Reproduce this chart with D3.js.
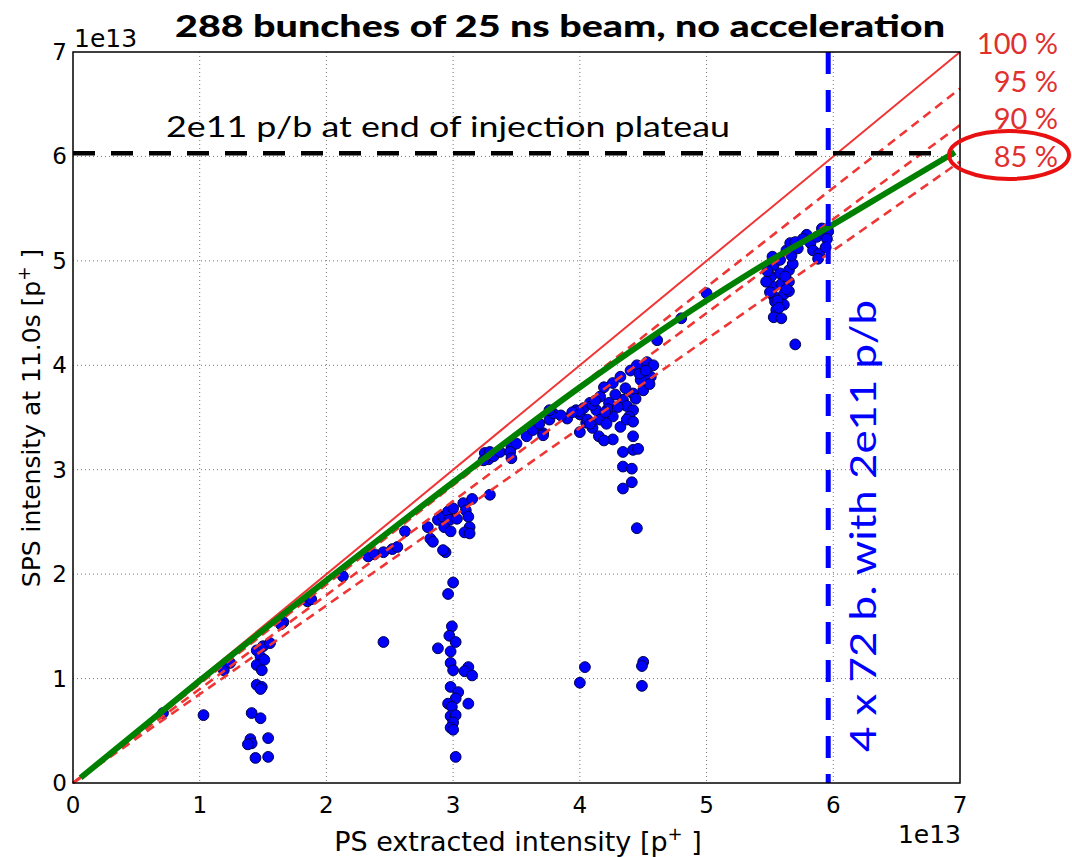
<!doctype html>
<html lang="en">
<head>
<meta charset="utf-8">
<title>288 bunches of 25 ns beam</title>
<style>
  body { margin: 0; background: #fff; }
  text { font-family: "DejaVu Sans", sans-serif; }
  .cal { font-family: Lato, "Open Sans", sans-serif; }
</style>
</head>
<body>
<div id="chart"></div>
<script src="https://d3js.org/d3.v7.min.js"></script>
<script>
// values in units of 1e13 protons
var ticks = [0, 1, 2, 3, 4, 5, 6, 7];
var ratios = [1.0, 0.95, 0.90, 0.85];
var ratioLabels = ["100 %", "95 %", "90 %", "85 %"];
var plateau = 6.03;       // 2e11 p/b line
var fourBatches = 5.96;   // 4 x 72 b. line

// green fit curve
var fitX = [0.06, 1, 2, 3, 4, 5, 5.5, 5.96, 6.5, 6.96];
var fitY = [0.05, 0.98, 1.94, 2.88, 3.79, 4.62, 5.0, 5.32, 5.71, 6.04];

// measurements: PS extracted vs SPS at 11.0 s
var psX = [
  0.71, 1.03, 1.19, 1.24, 1.45, 1.50, 1.555, 1.48, 1.45, 1.49, 1.51, 1.45, 1.49, 1.48,
  1.41, 1.48, 1.40, 1.41, 1.38, 1.54, 1.44, 1.54, 1.66, 1.64, 1.85, 1.88, 2.13,
  2.33, 2.38, 2.45, 2.52, 2.56, 2.62, 2.45,
  2.94, 3.0, 2.96, 2.99, 2.97, 3.02, 2.98, 2.88, 2.98, 3.0, 3.12, 3.09, 3.15, 2.98, 3.04,
  3.02, 2.96, 2.99, 3.12, 2.98, 3.02, 3.0, 2.98, 3.0, 3.02,
  4.0, 4.04, 4.5, 4.49, 4.49,
  2.80, 2.82, 2.84, 2.88, 2.92, 2.96, 3.0, 2.97, 3.03, 2.93, 2.98, 3.08, 3.15, 3.10, 3.12,
  3.13, 3.09, 3.13, 3.29, 2.92,
  3.25, 3.29, 3.28, 3.24, 3.32, 3.37, 3.46, 3.45,
  3.46, 3.50, 3.58, 3.63, 3.71, 3.76, 3.79, 3.68, 3.90, 4.0, 3.97, 4.03, 4.08, 4.16, 4.19,
  4.26, 4.32, 4.40, 4.45, 4.53, 4.58, 4.13, 4.23, 4.16, 4.26, 4.34, 4.42, 4.50, 4.48, 4.56,
  4.37, 4.42, 4.21, 4.32, 4.39, 4.15, 4.26, 4.37, 4.42, 4.42, 4.34, 4.42, 4.46, 4.34, 4.41,
  4.41, 4.34, 4.45, 3.71, 3.76, 3.99, 4.0, 4.19, 4.10, 4.05, 3.85, 4.61, 4.8, 5.0,
  4.06, 4.10, 4.22, 4.28, 4.30, 4.36, 4.47, 4.52, 4.55, 4.44, 4.12, 4.20, 4.08, 3.94,
  5.53, 5.58, 5.63, 5.66, 5.70, 5.51, 5.58, 5.65, 5.68, 5.53, 5.59, 5.65, 5.53, 5.61, 5.65,
  5.54, 5.61, 5.55, 5.53, 5.59, 5.70,
  5.48, 5.50, 5.56, 5.62, 5.67, 5.72, 5.47, 5.57, 5.63, 5.52,
  5.82, 5.87, 5.92, 5.96, 5.84, 5.89, 5.88, 5.95, 5.94, 5.79, 5.76, 5.91
];
var spsY = [
  0.67, 0.65, 1.08, 1.15, 1.27, 1.31, 1.34, 1.21, 1.13, 1.08, 1.18, 0.94, 0.92, 0.90,
  0.67, 0.62, 0.42, 0.38, 0.37, 0.43, 0.24, 0.25, 1.54, 1.52, 1.74, 1.76, 1.98,
  2.17, 2.19, 2.21, 2.24, 2.26, 2.41, 1.35,
  2.21, 1.92, 1.81, 1.50, 1.41, 1.35, 1.26, 1.29, 1.15, 1.08, 1.11, 1.07, 1.03, 0.92, 0.87,
  0.81, 0.76, 0.73, 0.76, 0.64, 0.65, 0.58, 0.53, 0.51, 0.25,
  0.96, 1.11, 1.16, 1.12, 0.93,
  2.45, 2.34, 2.31, 2.52, 2.55, 2.60, 2.63, 2.52, 2.53, 2.45, 2.41, 2.68, 2.72, 2.61, 2.55,
  2.45, 2.40, 2.39, 2.76, 2.23,
  3.16, 3.17, 3.10, 3.09, 3.13, 3.17, 3.22, 3.17,
  3.11, 3.25, 3.32, 3.38, 3.35, 3.48, 3.54, 3.44, 3.49, 3.53, 3.57, 3.59, 3.64, 3.70, 3.79,
  3.83, 3.89, 3.95, 4.00, 4.03, 4.00, 3.57, 3.64, 3.48, 3.51, 3.67, 3.73, 3.76, 3.86, 3.89,
  3.61, 3.57, 3.44, 3.41, 3.51, 3.32, 3.29, 3.48, 3.46, 3.32, 3.17, 3.19, 3.20, 3.03, 3.01,
  2.88, 2.82, 2.44, 3.33, 3.57, 3.56, 3.36, 3.28, 3.62, 3.45, 3.52, 4.24, 4.45, 4.69,
  3.48, 3.40, 3.58, 3.72, 3.60, 3.78, 3.92, 3.95, 3.82, 3.68, 3.66, 3.55, 3.44, 3.55,
  4.96, 5.01, 5.10, 5.17, 5.18, 4.85, 4.88, 4.91, 4.97, 4.75, 4.78, 4.80, 4.66, 4.68, 4.71,
  4.61, 4.58, 4.53, 4.46, 4.45, 4.20,
  4.90, 4.70, 4.62, 4.85, 5.05, 5.12, 4.80, 4.55, 4.73, 5.04,
  5.17, 5.23, 5.26, 5.28, 5.10, 5.07, 5.02, 5.21, 5.13, 5.25, 5.21, 5.31
];

var W = 1072, H = 857;
var margin = {top: 52, right: 112, bottom: 74, left: 73};
var width = W - margin.left - margin.right,
    height = H - margin.top - margin.bottom;

var svg = d3.select("#chart").append("svg")
    .attr("width", W)
    .attr("height", H);

var g = svg.append("g")
    .attr("transform", "translate(" + margin.left + "," + margin.top + ")");

var x = d3.scaleLinear().domain([0, 7]).range([0, width]);
var y = d3.scaleLinear().domain([0, 7]).range([height, 0]);

// grid
g.append("g").selectAll("line").data(ticks.slice(1, -1)).enter().append("line")
    .attr("x1", function(d) { return x(d); }).attr("x2", function(d) { return x(d); })
    .attr("y1", 0).attr("y2", height)
    .attr("stroke", "#777").attr("stroke-width", 1).attr("stroke-dasharray", "1,3");
g.append("g").selectAll("line").data(ticks.slice(1, -1)).enter().append("line")
    .attr("y1", function(d) { return y(d); }).attr("y2", function(d) { return y(d); })
    .attr("x1", 0).attr("x2", width)
    .attr("stroke", "#777").attr("stroke-width", 1).attr("stroke-dasharray", "1,3");

// scatter
var pts = psX.map(function(v, i) { return [v, spsY[i]]; });
g.append("g").selectAll("circle").data(pts).enter().append("circle")
    .attr("cx", function(d) { return x(d[0]); })
    .attr("cy", function(d) { return y(d[1]); })
    .attr("r", 5.4)
    .attr("fill", "#0000ff")
    .attr("stroke", "#000050")
    .attr("stroke-width", 1);

// transmission lines
var redLine = d3.line().x(function(d) { return x(d[0]); }).y(function(d) { return y(d[1]); });
g.append("g").selectAll("path").data(ratios).enter().append("path")
    .attr("d", function(r) { return redLine([[0, 0], [7, 7 * r]]); })
    .attr("fill", "none")
    .attr("stroke", "#f03535")
    .attr("stroke-width", function(r, i) { return i == 0 ? 2 : 2.6; })
    .attr("stroke-dasharray", function(r, i) { return i == 0 ? null : "9,6"; });

// green fit
var fit = fitX.map(function(v, i) { return [v, fitY[i]]; });
g.append("path")
    .attr("d", d3.line().curve(d3.curveMonotoneX)
        .x(function(d) { return x(d[0]); }).y(function(d) { return y(d[1]); })(fit))
    .attr("fill", "none")
    .attr("stroke", "#008000")
    .attr("stroke-width", 6);

// black dashed plateau line
g.append("line")
    .attr("x1", x(0)).attr("x2", x(6.85))
    .attr("y1", y(plateau)).attr("y2", y(plateau))
    .attr("stroke", "#000").attr("stroke-width", 4.5)
    .attr("stroke-dasharray", "22,16");

// blue dashed vertical
g.append("line")
    .attr("x1", x(fourBatches)).attr("x2", x(fourBatches))
    .attr("y1", 0).attr("y2", height)
    .attr("stroke", "#0000ff").attr("stroke-width", 5)
    .attr("stroke-dasharray", "22,16");

// frame
g.append("rect")
    .attr("width", width).attr("height", height)
    .attr("fill", "none").attr("stroke", "#000").attr("stroke-width", 1.5);

// ticks
g.append("g").selectAll("text").data(ticks).enter().append("text")
    .attr("x", function(d) { return x(d); })
    .attr("y", height + 30)
    .attr("text-anchor", "middle")
    .style("font-size", "23px")
    .text(function(d) { return d; });
g.append("g").selectAll("text").data(ticks).enter().append("text")
    .attr("x", -6)
    .attr("y", function(d) { return y(d) + 8; })
    .attr("text-anchor", "end")
    .style("font-size", "23px")
    .text(function(d) { return d; });

// offset labels
svg.append("text").attr("x", 74).attr("y", 47)
    .style("font-size", "25px").text("1e13");
svg.append("text").attr("x", 961).attr("y", 843).attr("text-anchor", "end")
    .style("font-size", "25px").text("1e13");

// axis titles
var xt = svg.append("text").attr("x", 518).attr("y", 851).attr("text-anchor", "middle")
    .style("font-size", "27px");
xt.append("tspan").text("PS extracted intensity [p");
xt.append("tspan").attr("dy", -11).style("font-size", "18px").text("+");
xt.append("tspan").attr("dy", 11).text(" ]");

var yt = svg.append("text").attr("transform", "translate(40,418) rotate(-90)")
    .attr("text-anchor", "middle").style("font-size", "25px");
yt.append("tspan").text("SPS intensity at 11.0s [p");
yt.append("tspan").attr("dy", -10).style("font-size", "17px").text("+");
yt.append("tspan").attr("dy", 10).text(" ]");

// title
svg.append("text").attr("class", "cal")
    .attr("x", 560).attr("y", 37).attr("text-anchor", "middle")
    .attr("textLength", 770).attr("lengthAdjust", "spacingAndGlyphs")
    .style("font-size", "31px").style("font-weight", "900")
    .text("288 bunches of 25 ns beam, no acceleration");

// annotations
svg.append("text").attr("class", "cal")
    .attr("x", 166).attr("y", 137)
    .attr("textLength", 564).attr("lengthAdjust", "spacingAndGlyphs")
    .style("font-size", "28px")
    .text("2e11 p/b at end of injection plateau");

svg.append("text").attr("class", "cal")
    .attr("transform", "translate(876,752) rotate(-90)")
    .attr("textLength", 452).attr("lengthAdjust", "spacingAndGlyphs")
    .attr("fill", "#0000ff")
    .style("font-size", "36px")
    .text("4 x 72 b. with 2e11 p/b");

// percentage labels
svg.append("g").selectAll("text").data(ratioLabels).enter().append("text")
    .attr("class", "cal")
    .attr("x", 1058)
    .attr("y", function(d, i) { return 54 + i * 37.5; })
    .attr("text-anchor", "end")
    .attr("fill", "#e03030")
    .style("font-size", "29px")
    .text(function(d) { return d; });

svg.append("ellipse")
    .attr("cx", 1009).attr("cy", 155).attr("rx", 60).attr("ry", 24)
    .attr("fill", "none").attr("stroke", "#e81010").attr("stroke-width", 4);
</script>
</body>
</html>
